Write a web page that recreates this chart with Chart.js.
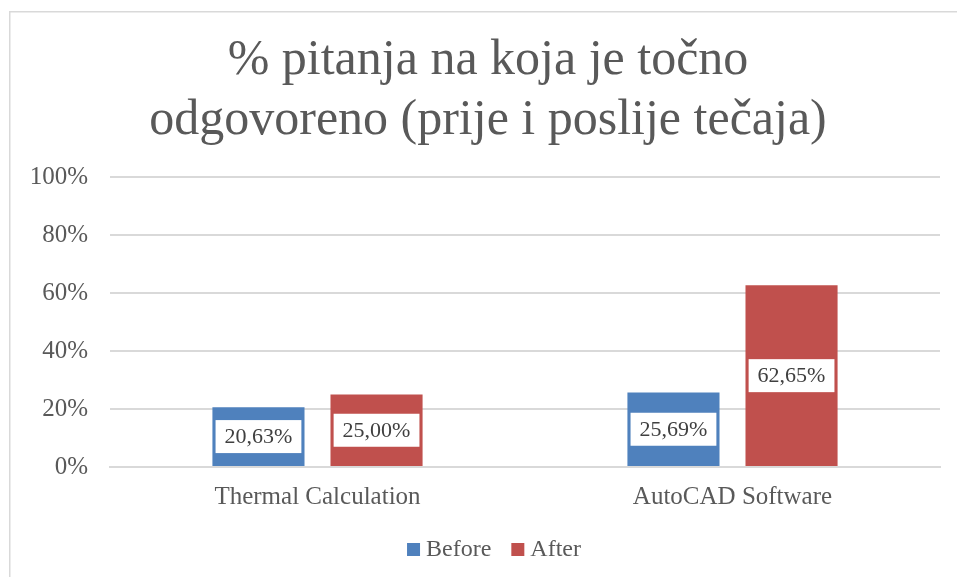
<!DOCTYPE html>
<html>
<head>
<meta charset="utf-8">
<script src="https://cdn.jsdelivr.net/npm/chart.js@4.4.1/dist/chart.umd.min.js"></script>
<style>
  html, body { margin: 0; padding: 0; background: #ffffff; }
  #wrap { width: 957px; height: 577px; position: relative; }
</style>
</head>
<body>
<div id="wrap"><canvas id="c" width="957" height="577"></canvas></div>
<script>
const titleLines = ['% pitanja na koja je točno', 'odgovoreno (prije i poslije tečaja)'];
const categories = ['Thermal Calculation', 'AutoCAD Software'];
const seriesNames = ['Before', 'After'];
const beforeValues = [20.63, 25.69];
const afterValues = [25.00, 62.65];
const yTickValues = [0, 20, 40, 60, 80, 100];
const seriesColors = ['#4F81BD', '#C0504D'];

const FONT = "'Liberation Serif', 'Times New Roman', serif";
const TEXT = '#595959';
const GRID = '#D9D9D9';

const frame = {
  id: 'frame',
  beforeDraw(chart) {
    const ctx = chart.ctx;
    ctx.save();
    ctx.fillStyle = '#ffffff';
    ctx.fillRect(0, 0, chart.width, chart.height);
    ctx.strokeStyle = GRID;
    ctx.lineWidth = 1.5;
    ctx.strokeRect(9.75, 11.75, chart.width + 50, chart.height + 50);
    ctx.restore();
  }
};

// let the y tick labels extend past the axis box, and nudge the legend row
const layoutTweaks = {
  id: 'layoutTweaks',
  afterLayout(chart) {
    const y = chart.scales.y;
    if (y) y.left = 0;
    const lg = chart.legend;
    if (lg) { lg.left += 9; lg.right += 9; }
  }
};

const valueLabels = {
  id: 'valueLabels',
  afterDatasetsDraw(chart) {
    const ctx = chart.ctx;
    ctx.save();
    ctx.font = '22px ' + FONT;
    ctx.textAlign = 'center';
    ctx.textBaseline = 'middle';
    chart.data.datasets.forEach((ds, di) => {
      const meta = chart.getDatasetMeta(di);
      meta.data.forEach((bar, i) => {
        const txt = ds.data[i].toFixed(2).replace('.', ',') + '%';
        const w = ctx.measureText(txt).width + 18;
        const h = 33;
        const cx = bar.x;
        const cy = (bar.y + bar.base) / 2;
        ctx.fillStyle = '#ffffff';
        ctx.fillRect(cx - w / 2, cy - h / 2, w, h);
        ctx.fillStyle = '#404040';
        ctx.fillText(txt, cx, cy + 1);
      });
    });
    ctx.restore();
  }
};

new Chart(document.getElementById('c'), {
  type: 'bar',
  data: {
    labels: categories,
    datasets: [
      { label: seriesNames[0], data: beforeValues, backgroundColor: seriesColors[0], borderWidth: 0,
        categoryPercentage: 0.569, barPercentage: 0.78 },
      { label: seriesNames[1], data: afterValues, backgroundColor: seriesColors[1], borderWidth: 0,
        categoryPercentage: 0.569, barPercentage: 0.78 }
    ]
  },
  options: {
    responsive: false,
    animation: false,
    devicePixelRatio: 1,
    layout: { padding: { left: 36, right: 17, top: 11, bottom: 5.5 } },
    plugins: {
      title: {
        display: true,
        text: titleLines,
        color: TEXT,
        font: { family: FONT, size: 50, weight: 'normal', lineHeight: 1.2 },
        padding: { top: 20, bottom: 26 }
      },
      legend: {
        display: true,
        position: 'bottom',
        labels: {
          usePointStyle: true,
          pointStyle: 'rect',
          boxWidth: 1,
          boxHeight: 13,
          padding: 26,
          color: TEXT,
          font: { family: FONT, size: 24 }
        }
      },
      tooltip: { enabled: false }
    },
    scales: {
      x: {
        afterFit(scale) { scale.height = 44.5; },
        grid: { display: false, drawTicks: false },
        border: { display: true, color: GRID, width: 2 },
        ticks: {
          color: TEXT,
          padding: 15.6,
          font: { family: FONT, size: 25, lineHeight: 1.2 }
        }
      },
      y: {
        min: 0,
        max: 100,
        afterBuildTicks(scale) { scale.ticks = yTickValues.map(v => ({ value: v })); },
        afterFit(scale) { scale.width = 74; },
        grid: { color: GRID, lineWidth: 2, drawTicks: false },
        border: { display: false },
        ticks: {
          color: TEXT,
          padding: 22,
          font: { family: FONT, size: 25 },
          callback: v => v + '%'
        }
      }
    }
  },
  plugins: [frame, layoutTweaks, valueLabels]
});
</script>
</body>
</html>
